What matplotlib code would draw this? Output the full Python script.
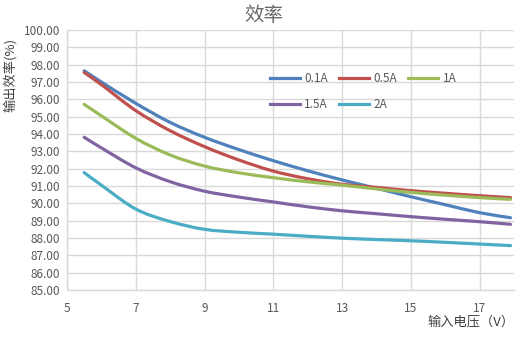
import matplotlib
matplotlib.use("Agg")
import matplotlib.pyplot as plt
from matplotlib.ticker import FormatStrFormatter
from matplotlib.path import Path
from matplotlib.patches import PathPatch
from matplotlib.lines import Line2D

plt.rcParams['font.family'] = ['Noto Sans CJK SC', 'DejaVu Sans']

# Input voltage (V)
voltage = [5.5, 6, 7, 8, 9, 10, 11, 12, 13, 14, 15, 16, 17, 17.9]

# Efficiency (%) for each load current
eff_01a = [97.65, 97.00, 95.77, 94.67, 93.81, 93.10, 92.46, 91.88, 91.35, 90.87, 90.38, 89.92, 89.46, 89.17]
eff_05a = [97.55, 96.85, 95.35, 94.19, 93.27, 92.50, 91.86, 91.42, 91.10, 90.92, 90.73, 90.58, 90.44, 90.33]
eff_1a = [95.71, 95.05, 93.75, 92.79, 92.15, 91.76, 91.48, 91.24, 91.05, 90.83, 90.63, 90.47, 90.33, 90.23]
eff_15a = [93.81, 93.20, 92.05, 91.25, 90.70, 90.36, 90.08, 89.80, 89.57, 89.40, 89.23, 89.08, 88.94, 88.79]
eff_2a = [91.77, 91.05, 89.67, 88.95, 88.50, 88.33, 88.22, 88.10, 87.99, 87.91, 87.84, 87.75, 87.65, 87.56]

series_names = ['0.1A', '0.5A', '1A', '1.5A', '2A']
series_values = [eff_01a, eff_05a, eff_1a, eff_15a, eff_2a]
series_colors = ['#4F81BD', '#C0504D', '#9BBB59', '#8064A2', '#4BACC6']

x_ticks = [5, 7, 9, 11, 13, 15, 17]
y_ticks = [85, 86, 87, 88, 89, 90, 91, 92, 93, 94, 95, 96, 97, 98, 99, 100]

text_gray = '#595959'
grid_gray = '#D9D9D9'


def smooth_path(xs, ys):
    """Cubic Bezier path through every data point (smoothed-line style)."""
    pts = list(zip(xs, ys))
    n = len(pts)
    verts = [pts[0]]
    codes = [Path.MOVETO]
    for i in range(n - 1):
        p0 = pts[i - 1] if i > 0 else pts[i]
        p1 = pts[i]
        p2 = pts[i + 1]
        p3 = pts[i + 2] if i + 2 < n else pts[i + 1]
        c1 = (p1[0] + (p2[0] - p0[0]) / 6, p1[1] + (p2[1] - p0[1]) / 6)
        c2 = (p2[0] - (p3[0] - p1[0]) / 6, p2[1] - (p3[1] - p1[1]) / 6)
        verts += [c1, c2, p2]
        codes += [Path.CURVE4] * 3
    return Path(verts, codes)


fig = plt.figure(figsize=(5.27, 3.49), dpi=100)
ax = fig.add_axes([0.1271, 0.1691, 0.9753 - 0.1271, 0.914 - 0.1691])

handles = {}
for name, vals, col in zip(series_names, series_values, series_colors):
    patch = PathPatch(smooth_path(voltage, vals), facecolor='none',
                      edgecolor=col, lw=2.3, capstyle='round',
                      joinstyle='round', zorder=3)
    ax.add_patch(patch)
    handles[name] = Line2D([], [], color=col, lw=2.3, label=name)

ax.set_xlim(5, 18)
ax.set_ylim(85, 100)
ax.set_xticks(x_ticks)
ax.set_yticks(y_ticks)
ax.yaxis.set_major_formatter(FormatStrFormatter('%.2f'))
ax.grid(True, color=grid_gray, lw=1)
ax.set_axisbelow(True)
for side in ['top', 'right']:
    ax.spines[side].set_visible(False)
for side in ['left', 'bottom']:
    ax.spines[side].set_color(grid_gray)
    ax.spines[side].set_linewidth(1)
ax.tick_params(axis='both', length=0, colors=text_gray, labelsize=8.5)
ax.tick_params(axis='x', pad=9)
ax.tick_params(axis='y', pad=5)

fig.text(0.501, 0.957, '效率', ha='center', va='center', fontsize=14,
         color='#6A6A6A')
fig.text(0.02, 0.785, '输出效率(%)', ha='center', va='center', rotation=90,
         fontsize=9.5, color='#404040')
fig.text(0.976, 0.077, '输入电压（V）', ha='right', va='center',
         fontsize=9.5, color='#404040')

# legend rows: 0.1A 0.5A 1A / 1.5A 2A (matplotlib fills column by column)
legend_order = ['0.1A', '1.5A', '0.5A', '2A', '1A']
leg = ax.legend(handles=[handles[k] for k in legend_order], ncol=3,
                loc='upper left', bbox_to_anchor=(0.44, 0.86), frameon=False,
                fontsize=8.5, handlelength=2.6, handletextpad=0.35,
                columnspacing=0.9, labelspacing=1.1, borderpad=0)
for t in leg.get_texts():
    t.set_color(text_gray)

fig.savefig('out.png', dpi=100)
